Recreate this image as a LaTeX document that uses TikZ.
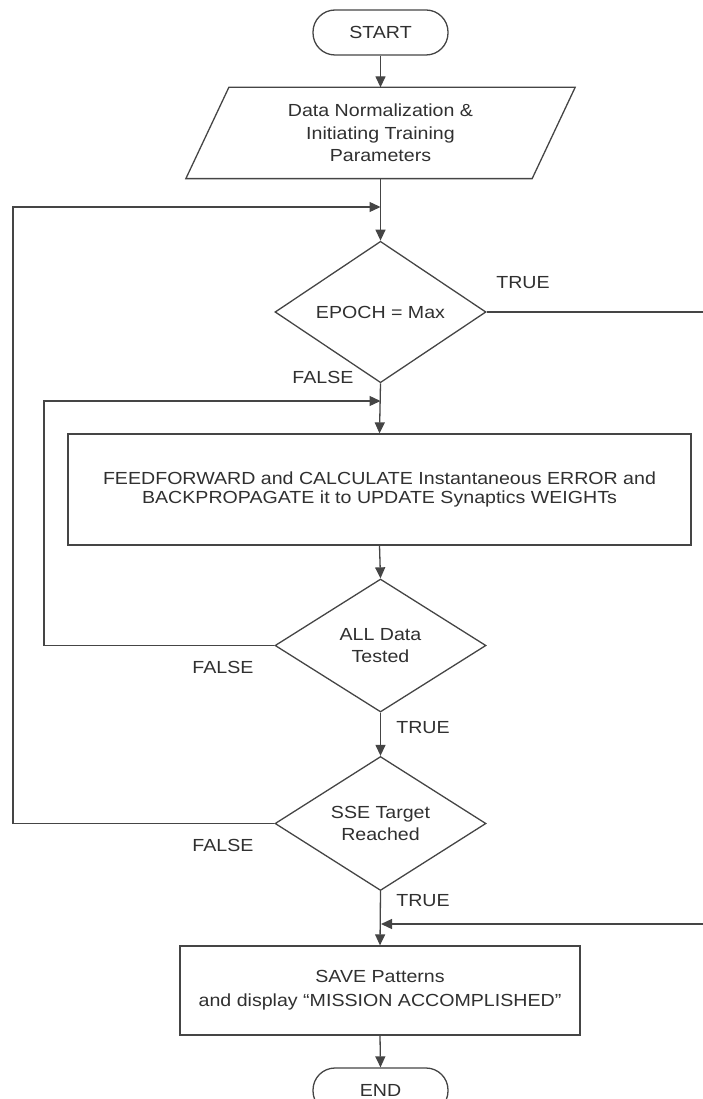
\documentclass[tikz,border=0pt]{standalone}
\usepackage{fontspec}
\setmainfont{Liberation Sans}[FakeStretch=1.12]
\usetikzlibrary{arrows.meta,shapes.geometric}
\definecolor{ln}{HTML}{454545}
\definecolor{txt}{HTML}{303030}
\begin{document}
\begin{tikzpicture}[x=1pt,y=-1pt,line width=1.3pt,
  every node/.style={text=txt,font=\fontsize{17.5}{22.5}\selectfont},
  term/.style={draw=ln,rectangle,rounded corners=22pt,minimum width=135pt,minimum height=45pt,inner sep=0pt},
  procbox/.style={draw=ln,rectangle,inner sep=0pt,align=center},
  decision/.style={draw=ln,diamond,minimum width=211pt,minimum height=133pt,inner sep=0pt,align=center},
  lbl/.style={inner sep=0pt},
  arr/.style={draw=ln,-{Triangle[length=11pt,width=10pt]}},
  plain/.style={draw=ln}]
\useasboundingbox (0,0) rectangle (703,1099);

% nodes
\node[term] (start) at (380.5,32.5) {START};
\node[inner sep=0pt,minimum width=345pt,minimum height=90pt,align=center] (data) at (380.5,133) {Data Normalization \&\\Initiating Training\\Parameters};
\draw[ln] ([xshift=21.5pt]data.north west) -- ([xshift=21.5pt]data.north east)
  -- ([xshift=-21.5pt]data.south east) -- ([xshift=-21.5pt]data.south west) -- cycle;
\node[decision] (epoch) at (380.5,312) {EPOCH = Max};
\node[procbox,minimum width=623pt,minimum height=111pt,font=\fontsize{17.5}{19.5}\selectfont] (proc) at (379.5,489.5)
  {FEEDFORWARD and CALCULATE Instantaneous ERROR and\\BACKPROPAGATE it to UPDATE Synaptics WEIGHTs};
\node[decision] (all) at (380.5,645.5) {ALL Data\\Tested};
\node[decision] (sse) at (380.5,823.5) {SSE Target\\Reached};
\node[procbox,minimum width=400pt,minimum height=89pt,font=\fontsize{17.5}{24}\selectfont] (save) at (380,990.5)
  {SAVE Patterns\\and display “MISSION ACCOMPLISHED”};
\node[term] (end) at (380.5,1090.5) {END};

% labels
\node[lbl] (t1) at (523,283) {TRUE};
\node[lbl] (f1) at (323,377) {FALSE};
\node[lbl] (f2) at (223,667) {FALSE};
\node[lbl] (t2) at (423,728) {TRUE};
\node[lbl] (f3) at (223,845) {FALSE};
\node[lbl] (t3) at (423,901) {TRUE};

% junction coordinates
\coordinate (j1) at (380.5,207);
\coordinate (l1) at (13,207);
\coordinate (j2) at (380.5,401);
\coordinate (l2) at (44,401);
\coordinate (r1) at (703,312);
\coordinate (r2) at (703,924);
\coordinate (j3) at (381,924);

% main flow
\draw[arr] (start.south) -- (data.north);
\draw[arr] (data.south) -- (epoch.north);
\draw[arr] (epoch.south) -- (proc.north);
\draw[arr] (proc.south) -- (all.north);
\draw[arr] (all.south) -- (sse.north);
\draw[arr] (sse.south) -- (save.north);
\draw[arr] (save.south) -- (end.north);

% loops
\draw[arr] (sse.west) -| (l1) -- (j1);
\draw[arr] (all.west) -| (l2) -- (j2);
\draw[plain] (epoch.east) -- (r1);
\draw[arr] (r2) -- (j3);
\end{tikzpicture}
\end{document}
